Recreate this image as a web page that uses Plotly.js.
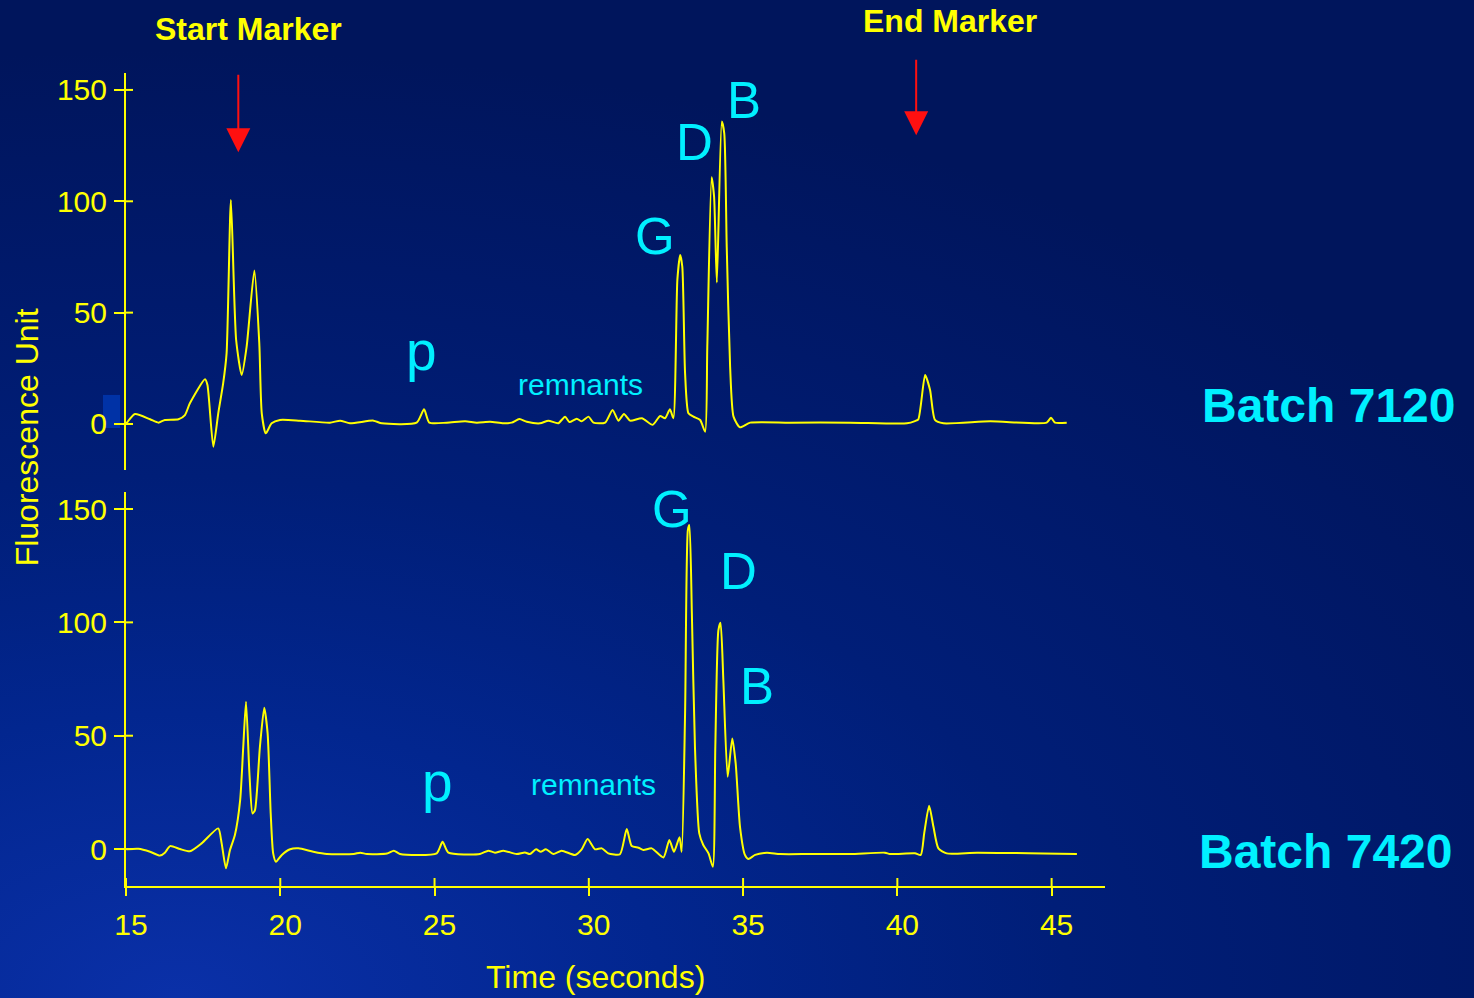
<!DOCTYPE html>
<html>
<head>
<meta charset="utf-8">
<script src="https://cdn.plot.ly/plotly-3.0.1.min.js"></script>
<style>
  html, body { margin:0; padding:0; width:1474px; height:998px; overflow:hidden;
    background: radial-gradient(ellipse 110% 95% at 12% 100%, #0a30a8 0%, #02268f 30%, #001e78 55%, #00196a 78%, #00155c 100%); }
  #chart { width:1474px; height:998px; }
</style>
</head>
<body>
<div id="chart"></div>
<script>
// ---- Batch 7120 (upper trace) ----
const top_time   = [15.0, 15.29, 15.78, 16.05, 16.26, 16.70, 16.91, 17.07, 17.56, 17.64, 17.83, 17.99, 18.15, 18.26, 18.40, 18.57, 18.75, 18.91, 19.16, 19.32, 19.40, 19.53, 19.72, 19.99, 20.64, 21.61, 21.94, 22.26, 23.02, 23.29, 24.42, 24.66, 24.83, 25.40, 25.99, 26.37, 26.80, 27.23, 27.50, 27.75, 27.99, 28.42, 28.69, 29.01, 29.23, 29.37, 29.61, 29.77, 29.99, 30.15, 30.53, 30.77, 30.96, 31.14, 31.34, 31.72, 32.07, 32.31, 32.47, 32.63, 32.74, 32.87, 32.96, 33.03, 33.12, 33.23, 33.39, 33.61, 33.77, 33.84, 33.98, 34.06, 34.15, 34.31, 34.39, 34.47, 34.58, 34.69, 34.90, 35.23, 36.5, 38.47, 40.31, 40.57, 40.68, 40.90, 41.06, 41.22, 41.49, 43.01, 44.84, 44.98, 45.11, 45.49];
const top_signal = [0.0, 4.5, 2.1, 0.6, 1.8, 2.1, 4.0, 9.3, 20.1, 17.5, -10.2, 4.8, 18.3, 31.7, 100.6, 37.7, 22.0, 34.7, 68.9, 36.2, 4.8, -4.2, 0.3, 1.8, 1.5, 0.6, 1.5, 0.3, 1.5, 0.3, 0.6, 6.6, 0.6, 0.6, 1.2, 0.6, 1.0, 0.3, 0.6, 2.2, 1.0, 0.3, 1.5, 0.3, 3.3, 0.9, 2.4, 1.2, 3.3, 0.6, 0.6, 6.3, 1.5, 4.5, 1.5, 2.6, -0.4, 3.6, 2.6, 6.6, 2.6, 64.7, 75.9, 70.6, 22.8, 4.8, 3.3, 1.8, -3.5, 34.7, 110.8, 102.1, 63.5, 135.8, 130.5, 79.6, 25.7, 3.3, -1.5, 0.6, 0.6, 0.6, 0.3, 1.3, 2.1, 22.0, 15.3, 1.8, 0.3, 1.2, 0.6, 2.8, 0.6, 0.6];

// ---- Batch 7420 (lower trace) ----
const bottom_time   = [15.02, 15.40, 15.78, 16.10, 16.26, 16.43, 16.75, 17.07, 17.45, 17.99, 18.10, 18.24, 18.37, 18.53, 18.70, 18.80, 18.89, 19.00, 19.10, 19.18, 19.34, 19.48, 19.59, 19.69, 19.77, 19.86, 20.05, 20.32, 20.59, 21.07, 21.51, 22.38, 22.59, 22.81, 23.46, 23.68, 23.88, 25.07, 25.26, 25.45, 26.47, 26.74, 26.96, 27.23, 27.66, 27.93, 28.09, 28.29, 28.44, 28.61, 28.85, 29.12, 29.55, 29.77, 29.96, 30.20, 30.42, 30.63, 31.01, 31.23, 31.39, 31.61, 31.77, 32.04, 32.42, 32.61, 32.76, 32.94, 33.01, 33.12, 33.21, 33.26, 33.34, 33.44, 33.58, 33.71, 33.88, 34.02, 34.10, 34.20, 34.27, 34.36, 34.50, 34.65, 34.76, 34.90, 35.06, 35.17, 35.39, 35.77, 36.20, 37.17, 38.47, 39.60, 39.76, 40.57, 40.76, 40.87, 41.03, 41.17, 41.33, 41.60, 42.58, 45.82];
const bottom_signal = [-0.1, 0.1, -1.2, -2.9, -1.6, 1.3, 0.0, -1.0, 2.5, 9.1, 2.5, -8.5, -0.4, 6.2, 21.6, 45.1, 65.0, 33.4, 15.7, 17.2, 45.1, 62.3, 51.0, 15.7, -1.9, -5.6, -2.6, -0.1, 0.3, -1.2, -2.2, -2.2, -1.6, -2.2, -2.0, -0.7, -2.2, -1.9, 3.2, -1.6, -2.2, -0.7, -1.6, -0.7, -2.2, -1.5, -2.2, -0.1, -1.2, -0.1, -2.2, -0.7, -2.6, -0.1, 4.4, -0.1, 0.3, -1.9, -2.3, 8.8, 1.3, 0.6, -0.4, 0.3, -3.7, 4.0, -1.2, 5.2, -1.2, 59.9, 140.7, 142.9, 104.0, 45.1, 6.9, 1.8, -1.9, -7.8, 45.1, 96.6, 99.8, 74.6, 31.9, 48.8, 37.8, 9.8, -2.6, -4.4, -2.6, -1.6, -2.2, -2.2, -2.2, -1.6, -2.2, -1.9, -2.6, 6.9, 19.1, 9.8, 0.3, -1.9, -1.6, -2.2];

// ---- axes / labels ----
const x_ticks = [15, 20, 25, 30, 35, 40, 45];
const y_ticks = [0, 50, 100, 150];
const batch_labels = ['Batch 7120', 'Batch 7420'];
const peak_labels_top = ['G', 'D', 'B'];
const peak_labels_bottom = ['G', 'D', 'B'];

const YEL = '#ffff00';
const CYAN = '#00f0ff';
const FONT = 'Liberation Sans, Arial, sans-serif';
const XR = [15, 46.73];
const YR_TOP = [-20.66, 157.6];
const YR_BOT = [-16.3, 157.5];

const lineStyle = {color: YEL, width: 2, shape: 'spline', smoothing: 0.6};

const traces = [
  {x: top_time, y: top_signal, xaxis: 'x', yaxis: 'y', mode: 'lines', line: lineStyle, hoverinfo: 'skip'},
  {x: bottom_time, y: bottom_signal, xaxis: 'x2', yaxis: 'y2', mode: 'lines', line: lineStyle, hoverinfo: 'skip'}
];

const tickFont = {family: FONT, size: 30, color: YEL};

const yBase = (dom, rng, anchor) => ({
  domain: dom, range: rng, anchor: anchor, type: 'linear', showgrid: false, zeroline: false,
  showline: true, linecolor: YEL, linewidth: 2,
  tickmode: 'array', tickvals: y_ticks, ticks: 'outside', ticklen: 10, tickwidth: 2, tickcolor: YEL,
  tickfont: tickFont, ticklabelstandoff: 1
});

const ann = [];
const txt = (text, x, y, xref, yref, size, color, bold) => ann.push({
  text: bold ? '<b>' + text + '</b>' : text, x: x, y: y, xref: xref, yref: yref,
  showarrow: false, xanchor: 'center', yanchor: 'middle',
  font: {family: FONT, size: size, color: color}
});

// peak letters, upper panel
txt(peak_labels_top[0], 32.15, 84.0, 'x', 'y', 51, CYAN);
txt(peak_labels_top[1], 33.41, 126.2, 'x', 'y', 51, CYAN);
txt(peak_labels_top[2], 35.03, 145.1, 'x', 'y', 51, CYAN);
txt('p', 24.59, 32.8, 'x', 'y', 55, CYAN);
txt('remnants', 29.72, 17.6, 'x', 'y', 30, CYAN);
// peak letters, lower panel
txt(peak_labels_bottom[0], 32.70, 150.0, 'x2', 'y2', 51, CYAN);
txt(peak_labels_bottom[1], 34.84, 122.6, 'x2', 'y2', 51, CYAN);
txt(peak_labels_bottom[2], 35.45, 71.5, 'x2', 'y2', 51, CYAN);
txt('p', 25.11, 29.6, 'x2', 'y2', 55, CYAN);
txt('remnants', 30.14, 28.5, 'x2', 'y2', 30, CYAN);
// batch labels
txt(batch_labels[0], 1.228, 0.5916, 'paper', 'paper', 48, CYAN, true);
txt(batch_labels[1], 1.2257, 0.043, 'paper', 'paper', 48, CYAN, true);
// markers
txt('Start Marker', 0.1256, 1.054, 'paper', 'paper', 32, YEL, true);
txt('End Marker', 0.8417, 1.064, 'paper', 'paper', 32, YEL, true);
// axis titles
ann.push({text: 'Fluorescence Unit', x: -0.101, y: 0.552, xref: 'paper', yref: 'paper', textangle: -90,
  showarrow: false, xanchor: 'center', yanchor: 'middle', font: {family: FONT, size: 32, color: YEL}});
ann.push({text: 'Time (seconds)', x: 0.480, y: -0.112, xref: 'paper', yref: 'paper',
  showarrow: false, xanchor: 'center', yanchor: 'middle', font: {family: FONT, size: 32, color: YEL}});
// red arrows
const arrow = (x, y, ay) => ann.push({x: x, y: y, xref: 'x', yref: 'y', text: '', showarrow: true,
  ax: 0, ay: ay, arrowhead: 2, arrowsize: 2.4, arrowwidth: 2, arrowcolor: '#ff1010'});
arrow(18.64, 122.0, -79);
arrow(40.61, 129.7, -77);

// inner halves of the crossing tick marks, built from the tick arrays
const shapes = [{type: 'rect', xref: 'paper', yref: 'paper', x0: -0.0235, x1: -0.0061, y0: 0.5633, y1: 0.604,
  fillcolor: '#0032a6', line: {width: 0}, layer: 'below'}];
const tickLine = {color: YEL, width: 2};
[['x', 'y'], ['x2', 'y2']].forEach(([xa, ya]) => {
  y_ticks.forEach(v => shapes.push({type: 'line', xref: xa, yref: ya, xsizemode: 'pixel', xanchor: XR[0],
    x0: 0, x1: 7, y0: v, y1: v, line: tickLine}));
});
x_ticks.forEach(v => shapes.push({type: 'line', xref: 'x2', yref: 'y2', ysizemode: 'pixel', yanchor: YR_BOT[0],
  y0: 0, y1: 8, x0: v, x1: v, line: tickLine}));

const layout = {
  width: 1474, height: 998,
  margin: {l: 126, r: 369, t: 73, b: 112},
  paper_bgcolor: 'rgba(0,0,0,0)', plot_bgcolor: 'rgba(0,0,0,0)',
  showlegend: false,
  font: {family: FONT, color: YEL},
  xaxis: {domain: [0, 1], range: XR, anchor: 'y', type: 'linear', visible: false},
  xaxis2: {domain: [0, 1], range: XR, anchor: 'y2', type: 'linear', showgrid: false, zeroline: false,
    showline: true, linecolor: YEL, linewidth: 2,
    tickmode: 'array', tickvals: x_ticks, ticks: 'outside', ticklen: 8, tickwidth: 2, tickcolor: YEL,
    tickfont: tickFont, ticklabelshift: 5, ticklabelstandoff: 3},
  yaxis: yBase([0.5117, 1], YR_TOP, 'x'),
  yaxis2: yBase([0, 0.4846], YR_BOT, 'x2'),
  annotations: ann,
  shapes: shapes
};

Plotly.newPlot('chart', traces, layout, {displayModeBar: false, staticPlot: true});
</script>
</body>
</html>
